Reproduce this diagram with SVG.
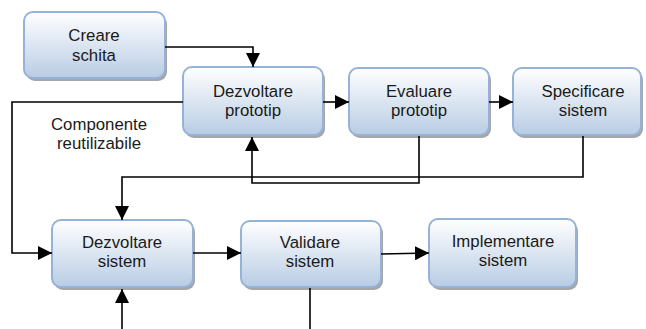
<svg xmlns="http://www.w3.org/2000/svg" width="646" height="329" viewBox="0 0 646 329">
<style>
.bx{fill:url(#g);stroke:#95b3d7;stroke-width:2}
.sh{fill:#a6a6a6}
.t{font-family:"Liberation Sans",Arial,sans-serif;font-size:16.8px;fill:#1a1a1a;text-anchor:middle}
.c{fill:none;stroke:#000;stroke-width:1.6}
.a{marker-end:url(#ar)}
</style>
<defs>
<linearGradient id="g" x1="0" y1="0" x2="0" y2="1">
<stop offset="0" stop-color="#ffffff"/>
<stop offset="1" stop-color="#b8cce4"/>
</linearGradient>
<marker id="ar" markerUnits="userSpaceOnUse" markerWidth="14" markerHeight="14" viewBox="0 0 14 14" refX="14" refY="7" orient="auto">
<path d="M0,0 L14,7 L0,14 z" fill="#000"/>
</marker>
</defs>
<rect width="646" height="329" fill="#fff"/>
<g id="creare">
<rect class="sh" x="26" y="15" width="141" height="66" rx="9"/>
<rect class="bx" x="24" y="12" width="141" height="66" rx="9"/>
<text class="t" x="94" y="41">Creare</text>
<text class="t" x="94" y="61">schita</text>
</g>
<g id="dezv-prototip">
<rect class="sh" x="185" y="70" width="140" height="68" rx="9"/>
<rect class="bx" x="183" y="67" width="140" height="68" rx="9"/>
<text class="t" x="253" y="97">Dezvoltare</text>
<text class="t" x="253" y="116">prototip</text>
</g>
<g id="evaluare">
<rect class="sh" x="351" y="71" width="140" height="67" rx="9"/>
<rect class="bx" x="349" y="68" width="140" height="67" rx="9"/>
<text class="t" x="419" y="97">Evaluare</text>
<text class="t" x="419" y="116">prototip</text>
</g>
<g id="specificare">
<rect class="sh" x="515" y="71" width="128" height="67" rx="9"/>
<rect class="bx" x="513" y="68" width="128" height="67" rx="9"/>
<text class="t" x="583" y="97">Specificare</text>
<text class="t" x="583" y="116">sistem</text>
</g>
<g id="dezv-sistem">
<rect class="sh" x="54" y="223" width="141" height="67" rx="9"/>
<rect class="bx" x="52" y="220" width="141" height="67" rx="9"/>
<text class="t" x="122" y="248">Dezvoltare</text>
<text class="t" x="122" y="267">sistem</text>
</g>
<g id="validare">
<rect class="sh" x="243" y="224" width="140" height="66" rx="9"/>
<rect class="bx" x="241" y="221" width="140" height="66" rx="9"/>
<text class="t" x="310" y="248">Validare</text>
<text class="t" x="310" y="267">sistem</text>
</g>
<g id="implementare">
<rect class="sh" x="431" y="222" width="147" height="68" rx="9"/>
<rect class="bx" x="429" y="219" width="147" height="68" rx="9"/>
<text class="t" x="503" y="247">Implementare</text>
<text class="t" x="503" y="266">sistem</text>
</g>
<g id="componente">
<text class="t" x="99" y="130">Componente</text>
<text class="t" x="99" y="149">reutilizabile</text>
</g>
<g id="connectors">
<path class="c a" d="M165,47 H253 V67"/>
<path class="c a" d="M323,102 H349"/>
<path class="c a" d="M489,102 H513"/>
<path class="c a" d="M419,136 V183 H252 V137"/>
<path class="c a" d="M583,136 V177 H122 V220"/>
<path class="c a" d="M183,102 H12 V253 H52"/>
<path class="c a" d="M193,253 H241"/>
<path class="c a" d="M381,254 L429,253"/>
<path class="c a" d="M122,329 V289"/>
<path class="c" d="M310,288 V329"/>
</g>
</svg>
